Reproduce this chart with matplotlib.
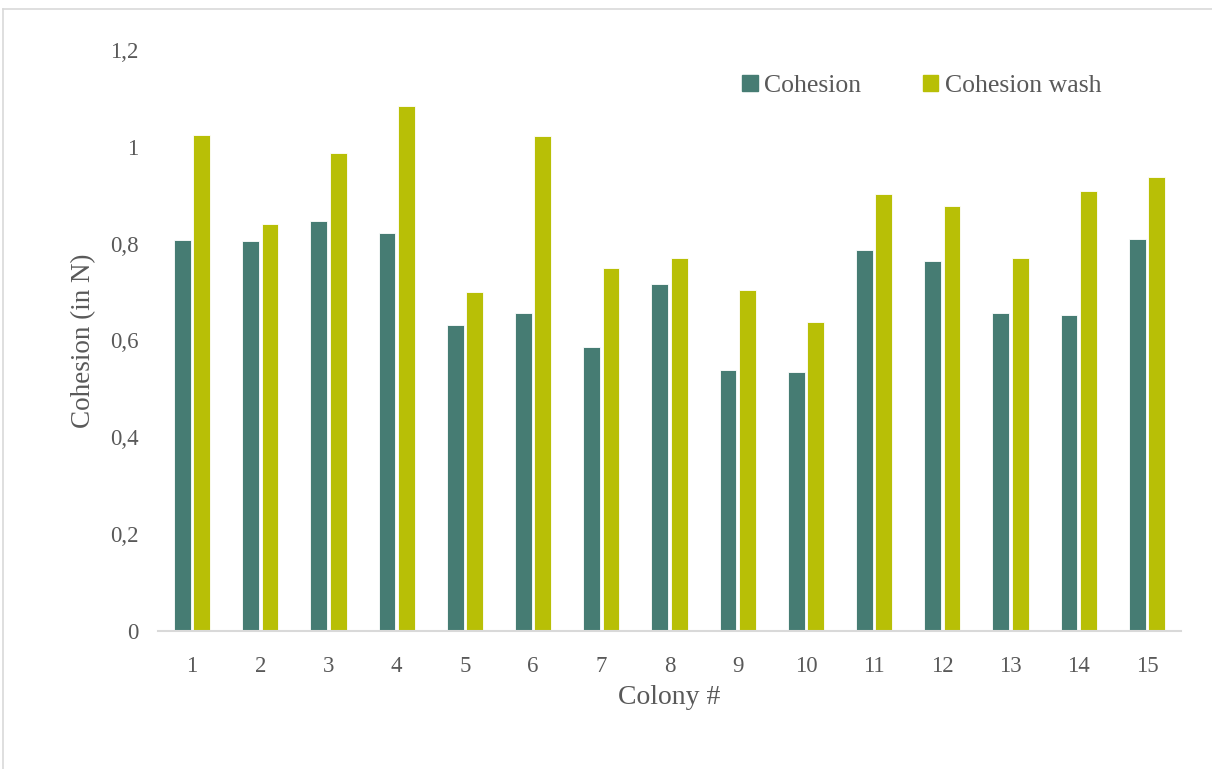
import matplotlib
matplotlib.use("Agg")
import matplotlib.pyplot as plt
import numpy as np
from matplotlib.patches import Rectangle
from matplotlib.lines import Line2D

colonies = [str(i) for i in range(1, 16)]
cohesion = [0.807, 0.805, 0.847, 0.822, 0.632, 0.657, 0.587, 0.717,
            0.539, 0.535, 0.787, 0.764, 0.657, 0.653, 0.810]
cohesion_wash = [1.024, 0.841, 0.987, 1.084, 0.700, 1.022, 0.750, 0.770,
                 0.704, 0.638, 0.902, 0.878, 0.770, 0.909, 0.938]
y_ticks = [0, 0.2, 0.4, 0.6, 0.8, 1.0, 1.2]
y_tick_labels = ["0", "0,2", "0,4", "0,6", "0,8", "1", "1,2"]

teal = "#467C73"
lime = "#B8BF06"
text_gray = "#595959"
plt.rcParams["font.family"] = ["Liberation Serif", "DejaVu Serif"]

fig = plt.figure(figsize=(12.12, 7.69), dpi=100)
ax = fig.add_axes([158 / 1212, 1 - 631 / 769, (1181 - 158) / 1212, (631 - 50) / 769])

x = np.arange(len(colonies))
w = 0.245
ax.bar(x - w / 2 - 0.02, cohesion, w, color=teal, edgecolor="#ffffff", linewidth=0.6,
       label="Cohesion", zorder=2)
ax.bar(x + w / 2 + 0.02, cohesion_wash, w, color=lime, edgecolor="#ffffff", linewidth=0.6,
       label="Cohesion wash", zorder=2)

ax.set_xlim(-0.5, len(colonies) - 0.5)
ax.set_ylim(0, 1.2)
ax.set_yticks(y_ticks)
ax.set_yticklabels(y_tick_labels)
ax.set_xticks(x)
ax.set_xticklabels(colonies)

for s in ["top", "right", "left"]:
    ax.spines[s].set_visible(False)
ax.spines["bottom"].set_color("#D9D9D9")
ax.spines["bottom"].set_linewidth(1.5)
ax.tick_params(axis="both", length=0, labelsize=16.5, colors=text_gray)
ax.tick_params(axis="y", pad=14)
ax.tick_params(axis="x", pad=18)

ax.set_ylabel("Cohesion (in N)", fontsize=19.5, color=text_gray, labelpad=10)
ax.set_xlabel("Colony #", fontsize=20, color=text_gray, labelpad=6)

handles = [Rectangle((0, 0), 1, 1, color=teal), Rectangle((0, 0), 1, 1, color=lime)]
fig.legend(handles, ["Cohesion", "Cohesion wash"], loc="center left",
           bbox_to_anchor=(719 / 1212, 1 - 86 / 769), ncol=2, frameon=False,
           fontsize=18.5, labelcolor=text_gray, handlelength=0.6, handleheight=0.6,
           handletextpad=0.25, columnspacing=2.4)

# chart area border
fig.add_artist(Line2D([3 / 1212, 3 / 1212], [0, 1 - 9 / 769], color="#D9D9D9",
                      linewidth=1.2, transform=fig.transFigure))
fig.add_artist(Line2D([3 / 1212, 1], [1 - 9 / 769, 1 - 9 / 769], color="#D9D9D9",
                      linewidth=1.2, transform=fig.transFigure))

fig.savefig("out.png", dpi=100)
